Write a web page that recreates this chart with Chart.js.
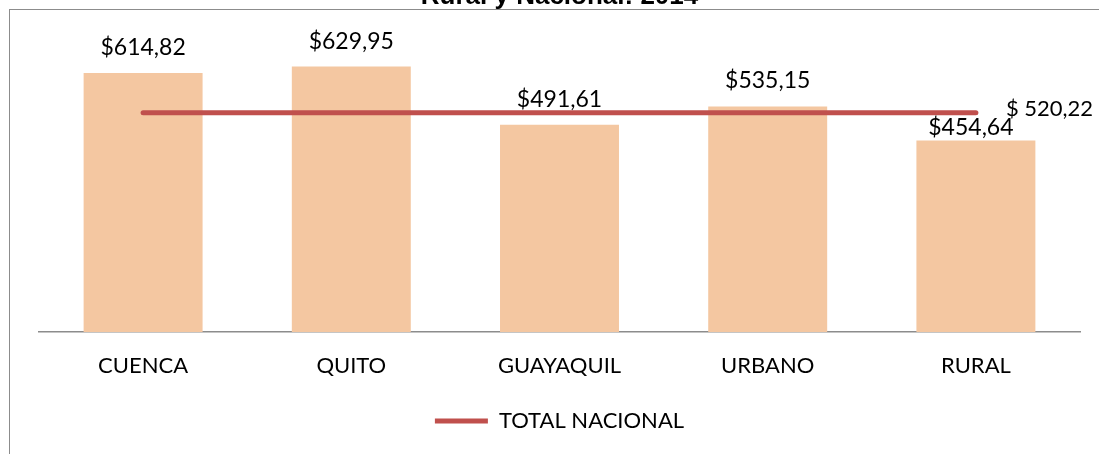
<!DOCTYPE html>
<html><head><meta charset="utf-8">
<script src="https://cdn.jsdelivr.net/npm/chart.js@4/dist/chart.umd.min.js"></script>
<style>
html,body{margin:0;padding:0;background:#fff;overflow:hidden}
#wrap{position:relative;width:1099px;height:454px;overflow:hidden}
#frame{position:absolute;left:9px;top:9px;width:1200px;height:600px;border-left:1px solid #8c8c8c;border-top:1px solid #8c8c8c;pointer-events:none}
canvas{position:absolute;left:0;top:0}
</style></head><body>
<div id="wrap"><canvas id="c" width="1099" height="454"></canvas><div id="frame"></div></div>
<script>
const categories = ['CUENCA', 'QUITO', 'GUAYAQUIL', 'URBANO', 'RURAL'];
const ingresoPromedio = [614.82, 629.95, 491.61, 535.15, 454.64];
const totalNacional = [520.22, 520.22, 520.22, 520.22, 520.22];
const seriesBarLabel = 'INGRESO PROMEDIO';
const seriesLineLabel = 'TOTAL NACIONAL';
const chartTitle = 'Rural y Nacional: 2014';
const yMin = 0;
const yMax = 700;

function fmtNum(v) { return v.toFixed(2).replace('.', ','); }

const FONT = 'Lato';
const labelPlugin = {
  id: 'valueLabels',
  afterDatasetsDraw(chart, args, opts) {
    const ctx = chart.ctx;
    ctx.save();
    ctx.font = '23px ' + FONT;
    ctx.fillStyle = '#000';
    ctx.textAlign = 'center';
    ctx.textBaseline = 'alphabetic';
    const meta = chart.getDatasetMeta(1);
    meta.data.forEach((bar, i) => {
      const adj = (opts.adjust && opts.adjust[i]) || { dx: 0, dy: 0 };
      ctx.fillText('$' + fmtNum(ingresoPromedio[i]), bar.x + adj.dx, bar.y - 18 + adj.dy);
    });
    const lm = chart.getDatasetMeta(0);
    const li = lm.data.length - 1;
    const last = lm.data[li];
    ctx.font = '22px ' + FONT;
    ctx.textAlign = 'left';
    ctx.fillText('$ ' + fmtNum(totalNacional[li]), last.x + 30, last.y + 3);
    ctx.font = 'bold 26px "Liberation Sans"';
    ctx.textAlign = 'center';
    const ca = chart.chartArea;
    ctx.fillText(chartTitle, (ca.left + ca.right) / 2, 4);
    ctx.restore();
  }
};

function build() {
  new Chart(document.getElementById('c'), {
    data: {
      labels: categories,
      datasets: [
        {
          type: 'line', label: seriesLineLabel, data: totalNacional,
          borderColor: '#C0504D', backgroundColor: '#C0504D', borderWidth: 5,
          borderCapStyle: 'round', pointRadius: 0, fill: false, order: 0
        },
        {
          type: 'bar', label: seriesBarLabel, data: ingresoPromedio,
          backgroundColor: '#F4C7A1', borderWidth: 0,
          categoryPercentage: 1, barPercentage: 0.5714, order: 1
        }
      ]
    },
    options: {
      responsive: false, animation: false,
      layout: { padding: { left: 39, right: 19, top: 37, bottom: 12 } },
      plugins: {
        legend: {
          position: 'bottom',
          labels: {
            filter: (item) => item.datasetIndex === 0,
            usePointStyle: true, pointStyle: 'line', pointStyleWidth: 53,
            font: { family: FONT, size: 22 }, color: '#000', padding: 9.5
          }
        },
        tooltip: { enabled: false },
        title: { display: false },
        valueLabels: { adjust: { 4: { dx: -5, dy: 13 } } }
      },
      scales: {
        x: {
          grid: { display: false, drawTicks: false },
          border: { display: true, color: '#8c8c8c', width: 1.5 },
          ticks: { font: { family: FONT, size: 22 }, color: '#000', padding: 21 }
        },
        y: { display: false, min: yMin, max: yMax }
      }
    },
    plugins: [labelPlugin]
  });
}
Promise.all([
  document.fonts.load('22px Lato'),
  document.fonts.load('bold 26px "Liberation Sans"')
]).then(build, build);
</script>
</body></html>
